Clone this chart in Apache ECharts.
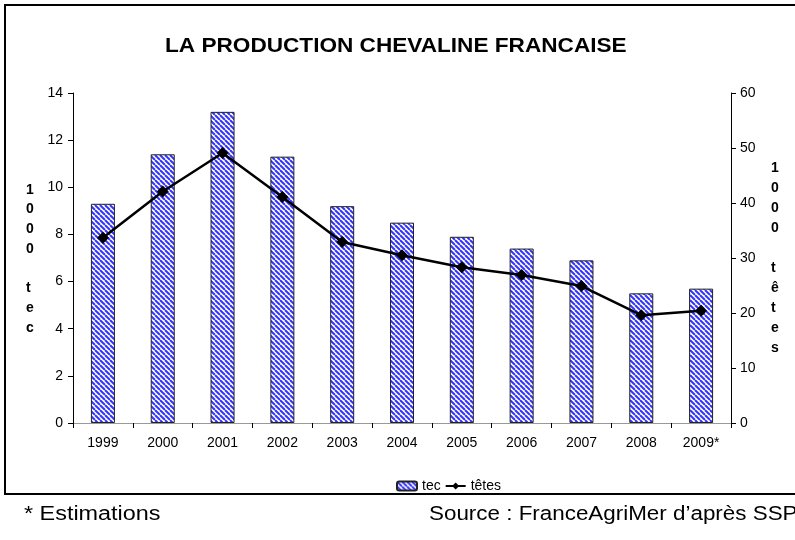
<!DOCTYPE html>
<html>
<head>
<meta charset="utf-8">
<script src="https://cdn.jsdelivr.net/npm/echarts@6/dist/echarts.min.js"></script>
<style>
  html, body { margin: 0; padding: 0; background: #fff; }
  #chart { width: 795px; height: 540px; }
</style>
</head>
<body>
<div id="chart"></div>
<script>
// données
var annees = ['1999', '2000', '2001', '2002', '2003', '2004', '2005', '2006', '2007', '2008', '2009*'];
var tec = [9.3, 11.4, 13.2, 11.3, 9.2, 8.5, 7.9, 7.4, 6.9, 5.5, 5.7];      // 1000 tec
var tetes = [33.7, 42.1, 49.1, 41.1, 32.9, 30.5, 28.3, 26.9, 24.9, 19.6, 20.4]; // 1000 têtes

var police = 'Arial, "Liberation Sans", sans-serif';

// motif hachuré bleu pour les barres
var hachure = (function () {
  var c = document.createElement('canvas');
  var s = 5;
  c.width = s; c.height = s;
  var ctx = c.getContext('2d');
  ctx.fillStyle = '#fff';
  ctx.fillRect(0, 0, s, s);
  ctx.strokeStyle = '#3333ff';
  ctx.lineWidth = 2;
  for (var k = -s; k <= s; k += s) {
    ctx.beginPath();
    ctx.moveTo(k, 0);
    ctx.lineTo(k + s, s);
    ctx.stroke();
  }
  return c;
})();

var myChart = echarts.init(document.getElementById('chart'));

var option = {
  backgroundColor: '#fff',
  animation: false,
  textStyle: { fontFamily: police },
  grid: { left: 73, right: 64, top: 93, bottom: 117 },
  legend: {
    left: 391,
    top: 474,
    itemGap: 4,
    itemWidth: 20,
    itemHeight: 9,
    textStyle: { fontSize: 14, color: '#000', fontFamily: police },
    data: ['tec', 'têtes']
  },
  xAxis: [{
    type: 'category',
    data: annees,
    axisLine: { lineStyle: { color: '#000', width: 1 } },
    axisTick: { show: true, length: 5, lineStyle: { color: '#000' } },
    axisLabel: { color: '#000', fontSize: 14, margin: 13, fontFamily: police }
  }, {
    type: 'category',
    position: 'top',
    data: annees,
    axisLine: { show: true, lineStyle: { color: '#999', width: 1 } },
    axisTick: { show: false },
    axisLabel: { show: false }
  }],
  yAxis: [{
    type: 'value',
    min: 0, max: 14, interval: 2,
    axisLine: { show: true, lineStyle: { color: '#000' } },
    axisTick: { show: true, length: 5, lineStyle: { color: '#000' } },
    axisLabel: { color: '#000', fontSize: 14, margin: 10, fontFamily: police },
    splitLine: { show: false }
  }, {
    type: 'value',
    min: 0, max: 60, interval: 10,
    position: 'right',
    axisLine: { show: true, lineStyle: { color: '#000' } },
    axisTick: { show: true, length: 5, lineStyle: { color: '#000' } },
    axisLabel: { color: '#000', fontSize: 14, margin: 9, fontFamily: police },
    splitLine: { show: false }
  }],
  series: [{
    name: 'tec',
    type: 'bar',
    yAxisIndex: 0,
    barWidth: 24,
    data: tec,
    itemStyle: {
      color: { image: hachure, repeat: 'repeat' },
      borderColor: '#222',
      borderWidth: 1
    }
  }, {
    name: 'têtes',
    type: 'line',
    yAxisIndex: 1,
    data: tetes,
    symbol: 'diamond',
    symbolSize: 12,
    lineStyle: { color: '#000', width: 2.5 },
    itemStyle: { color: '#000' }
  }],
  graphic: [{
    type: 'rect',
    shape: { x: 5, y: 5, width: 800, height: 489 },
    style: { fill: null, stroke: '#000', lineWidth: 2 },
    silent: true
  }, {
    type: 'text',
    x: 165, y: 46,
    scaleX: 1.13,
    style: { text: 'LA PRODUCTION CHEVALINE FRANCAISE', font: 'bold 20px ' + police, fill: '#000', verticalAlign: 'middle' }
  }, {
    type: 'text',
    x: 26, y: 180,
    style: { text: '1\n0\n0\n0\n\nt\ne\nc', font: 'bold 14px ' + police, fill: '#000', lineHeight: 19.7, align: 'left' }
  }, {
    type: 'text',
    x: 771, y: 158,
    style: { text: '1\n0\n0\n0\n\nt\nê\nt\ne\ns', font: 'bold 14px ' + police, fill: '#000', lineHeight: 20, align: 'left' }
  }, {
    type: 'text',
    x: 24, y: 514,
    scaleX: 1.17,
    style: { text: '* Estimations', font: '20px ' + police, fill: '#000', verticalAlign: 'middle' }
  }, {
    type: 'text',
    x: 429, y: 514,
    scaleX: 1.12,
    style: { text: 'Source : FranceAgriMer d’après SSP', font: '20px ' + police, fill: '#000', verticalAlign: 'middle' }
  }]
};

myChart.setOption(option);
</script>
</body>
</html>
